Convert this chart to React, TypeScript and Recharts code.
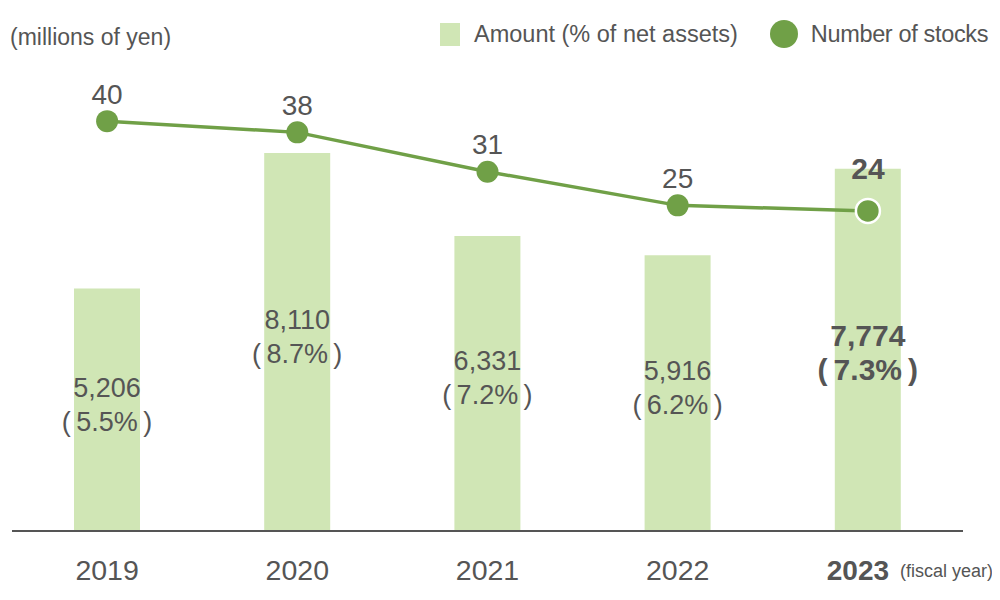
import React from "react";
import {
  ComposedChart,
  Bar,
  Line,
  XAxis,
  YAxis,
  LabelList,
} from "recharts";

const years = ["2019", "2020", "2021", "2022", "2023"];
const amounts = [5206, 8110, 6331, 5916, 7774];
const percents = [5.5, 8.7, 7.2, 6.2, 7.3];
const stocks = [40, 38, 31, 25, 24];

const BAR_COLOR = "#d0e6b5";
const LINE_COLOR = "#70a047";
const TEXT_COLOR = "#555555";
const FONT = "'Liberation Sans', Arial, sans-serif";

const data = years.map((year, i) => ({
  year,
  amount: amounts[i],
  percent: percents[i],
  stocks: stocks[i],
}));

const lastYear = years[years.length - 1];

// two-line label inside each bar: amount and (percent)
function BarLabel(props: any) {
  const { x, y, width, height, index } = props;
  const cx = x + width / 2;
  const bold = index === years.length - 1;
  const mid = y + height / 2 + (bold ? 8 : 0);
  const size = bold ? 30 : 27;
  return (
    <g>
      <text
        x={cx}
        y={mid - 22}
        textAnchor="middle"
        dominantBaseline="central"
        fill={TEXT_COLOR}
        fontSize={size}
        fontWeight={bold ? "bold" : "normal"}
        fontFamily={FONT}
      >
        {amounts[index].toLocaleString("en-US")}
      </text>
      <text
        x={cx}
        y={mid + 12}
        textAnchor="middle"
        dominantBaseline="central"
        fill={TEXT_COLOR}
        fontSize={size}
        fontWeight={bold ? "bold" : "normal"}
        fontFamily={FONT}
      >
        {`(\u2009${percents[index].toFixed(1)}%\u2009)`}
      </text>
    </g>
  );
}

function LineLabel(props: any) {
  const { x, y, index, value } = props;
  const bold = index === years.length - 1;
  return (
    <text
      x={x}
      y={bold ? y - 42 : y - 27}
      textAnchor="middle"
      dominantBaseline="central"
      fill={TEXT_COLOR}
      fontSize={bold ? 30 : 28}
      fontWeight={bold ? "bold" : "normal"}
      fontFamily={FONT}
    >
      {value}
    </text>
  );
}

function StockDot(props: any) {
  const { cx, cy, index } = props;
  if (index === years.length - 1) {
    return <circle cx={cx} cy={cy} r={12} fill={LINE_COLOR} stroke="#ffffff" strokeWidth={2.5} />;
  }
  return <circle cx={cx} cy={cy} r={11} fill={LINE_COLOR} />;
}

function YearTick(props: any) {
  const { x, y, payload } = props;
  const bold = payload.value === lastYear;
  return (
    <g>
      <text
        x={bold ? x - 10 : x}
        y={y + 39}
        textAnchor="middle"
        dominantBaseline="central"
        fill={TEXT_COLOR}
        fontSize={bold ? 28 : 28.5}
        fontWeight={bold ? "bold" : "normal"}
        fontFamily={FONT}
      >
        {payload.value}
      </text>
      {bold && (
        <text
          x={x + 32}
          y={y + 40}
          textAnchor="start"
          dominantBaseline="central"
          fill={TEXT_COLOR}
          fontSize={18}
          fontFamily={FONT}
        >
          {"(fiscal year)"}
        </text>
      )}
    </g>
  );
}

export default function App() {
  return (
    <div
      style={{
        position: "relative",
        width: 1000,
        height: 600,
        marginLeft: -8,
        marginTop: -8,
        background: "#ffffff",
        fontFamily: FONT,
        color: TEXT_COLOR,
      }}
    >
      <div style={{ position: "absolute", left: 10, top: 24, fontSize: 23 }}>
        (millions of yen)
      </div>

      {/* legend */}
      <div
        style={{
          position: "absolute",
          left: 440,
          top: 20,
          display: "flex",
          alignItems: "center",
          fontSize: 23.5,
          whiteSpace: "nowrap",
        }}
      >
        <span style={{ width: 20, height: 23, background: BAR_COLOR, marginRight: 14 }} />
        <span style={{ marginRight: 32 }}>Amount (% of net assets)</span>
        <span
          style={{
            width: 28,
            height: 28,
            borderRadius: "50%",
            background: LINE_COLOR,
            marginRight: 13,
          }}
        />
        <span style={{ letterSpacing: -0.35 }}>Number of stocks</span>
      </div>

      <div style={{ position: "absolute", left: 0, top: 0 }}>
        <ComposedChart
          width={1000}
          height={600}
          data={data}
          margin={{ top: 65, right: 37, bottom: 39, left: 12 }}
        >
          <XAxis
            dataKey="year"
            height={30}
            tickLine={false}
            tickSize={0}
            tickMargin={0}
            axisLine={{ stroke: "#555555", strokeWidth: 2 }}
            tick={<YearTick />}
            interval={0}
          />
          <YAxis yAxisId="amount" hide domain={[0, 10000]} />
          <YAxis yAxisId="stocks" orientation="right" hide domain={[-33, 50]} />
          <Bar
            yAxisId="amount"
            dataKey="amount"
            fill={BAR_COLOR}
            barSize={66}
            isAnimationActive={false}
          >
            <LabelList dataKey="amount" content={<BarLabel />} />
          </Bar>
          <Line
            yAxisId="stocks"
            dataKey="stocks"
            stroke={LINE_COLOR}
            strokeWidth={3.5}
            dot={<StockDot />}
            activeDot={false}
            isAnimationActive={false}
          >
            <LabelList dataKey="stocks" content={<LineLabel />} />
          </Line>
        </ComposedChart>
      </div>
    </div>
  );
}
